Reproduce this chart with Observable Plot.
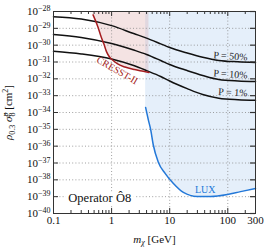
<!DOCTYPE html>
<html><head><meta charset="utf-8">
<script src="https://cdn.jsdelivr.net/npm/d3@7"></script>
<script src="https://cdn.jsdelivr.net/npm/@observablehq/plot@0.6"></script>
<style>body{margin:0;background:#fff} svg{display:block}</style>
</head><body><div id="chart"></div>
<script>
// Black probability curves (mass in GeV, log10 of sigma in cm^2)
const curveMass = [0.1, 0.3, 1, 2.4, 4, 7, 10, 20, 37, 70, 150, 300];
const p50 = [-28.31, -28.45, -28.84, -29.31, -29.58, -29.92, -30.14, -30.47, -30.72, -30.91, -30.99, -31.03];
const p10 = [-29.37, -29.54, -29.90, -30.29, -30.55, -30.91, -31.15, -31.51, -31.80, -32.04, -32.13, -32.16];
const p1  = [-30.36, -30.52, -30.82, -31.21, -31.51, -31.86, -32.13, -32.58, -32.93, -33.15, -33.24, -33.27];
const curveNames = ["P = 50%", "P = 10%", "P = 1%"];
const curveLabelMass = [218, 218, 218];
const curveLabelLog = [-30.73, -31.80, -32.87];

// CRESST-II exclusion boundary
const cresstMass = [0.48, 0.58, 0.66, 0.74, 0.82, 0.92, 1.05, 1.25, 1.7, 2.5, 3.5, 4.4];
const cresstLog  = [-28.2, -28.9, -29.5, -29.95, -30.4, -30.7, -30.9, -31.1, -31.3, -31.45, -31.55, -31.62];

// LUX exclusion boundary
const luxMass = [3.85, 4.3, 4.7, 5.2, 6.4, 8.4, 11.6, 17.2, 30, 50, 99, 166, 300];
const luxLog  = [-33.70, -34.45, -35.0, -35.9, -36.97, -37.63, -38.22, -38.75, -38.99, -38.99, -38.87, -38.70, -38.52];

// Axes
const yTicks = [-40, -39, -38, -37, -36, -35, -34, -33, -32, -31, -30, -29, -28];
const yGrid = [-39, -38, -37, -36, -35, -34, -33, -32, -31, -30, -29];
const xTickValues = [0.1, 1, 10, 100, 300];
const xTickLabels = ["0.1", "1", "10", "100", "300"];
const xGrid = [1, 10, 100];
const xMajor = [0.1, 1, 10, 100];
const xMinor = [0.2,0.3,0.4,0.5,0.6,0.7,0.8,0.9,2,3,4,5,6,7,8,9,20,30,40,50,60,70,80,90,200];
const topLog = -28;

const zip = (xs, ys) => xs.map((x, i) => ({x, y: ys[i]}));
const curves = [p50, p10, p1].flatMap((ys, k) => curveMass.map((x, i) => ({x, y: ys[i], k})));
const cresst = zip(cresstMass, cresstLog);
const lux = zip(luxMass, luxLog);
const curveLabels = curveNames.map((t, i) => ({t, x: curveLabelMass[i], y: curveLabelLog[i]}));

const W = 270, H = 249, ML = 53, MR = 15, MT = 11, MB = 36;
const innerW = W - ML - MR, innerH = H - MT - MB;
const red = "#a51d20", blue = "#2378d8";

const chart = Plot.plot({
  width: W, height: H,
  marginLeft: ML, marginRight: MR, marginTop: MT, marginBottom: MB,
  style: {fontFamily: "'Liberation Serif', serif", fontSize: "11px", background: "white", color: "#111"},
  x: {type: "log", domain: [0.1, 300]},
  y: {domain: [-40, -28]},
  marks: [
    Plot.areaY(lux, {x: "x", y1: "y", y2: () => topLog, fill: "#9ec5ec", fillOpacity: 0.27}),
    Plot.areaY(cresst, {x: "x", y1: "y", y2: () => topLog, fill: "#d99a9a", fillOpacity: 0.28}),
    Plot.ruleY(yGrid, {stroke: "#888", strokeDasharray: "1,2.2", strokeWidth: 0.8}),
    Plot.ruleX(xGrid, {stroke: "#888", strokeDasharray: "1,2.2", strokeWidth: 0.8}),
    Plot.text(["Operator Ô8"], {ariaLabel: "operator-label", x: () => 0.18, y: () => -39.05, textAnchor: "start",
      fontSize: 12.5, fill: "#111", stroke: "white", strokeWidth: 7, paintOrder: "stroke"}),
    Plot.line(curves, {x: "x", y: "y", z: "k", stroke: "#111", strokeWidth: 1.5, curve: "monotone-x"}),
    Plot.line(cresst, {x: "x", y: "y", stroke: red, strokeWidth: 1.5, curve: "monotone-x"}),
    Plot.line(lux, {x: "x", y: "y", stroke: blue, strokeWidth: 1.5, curve: "monotone-x"}),
    Plot.text(curveLabels, {ariaLabel: "p-labels", x: "x", y: "y", text: "t", textAnchor: "end", rotate: 4, fontSize: 10, fill: "#222"}),
    Plot.text(["CRESST-II"], {x: () => 1.25, y: () => -31.5, rotate: 30, fontSize: 10, fill: red}),
    Plot.text(["LUX"], {x: () => 41, y: () => -38.58, fontSize: 10, fill: blue}),
    // inward ticks
    Plot.tickY(yTicks, {y: d => d, insetRight: innerW - 5, stroke: "#333"}),
    Plot.tickY(yTicks, {y: d => d, insetLeft: innerW - 5, stroke: "#333", strokeWidth: 1.2}),
    Plot.tickX(xMajor, {x: d => d, insetTop: innerH - 5, stroke: "#333"}),
    Plot.tickX(xMajor, {x: d => d, insetBottom: innerH - 5, stroke: "#333"}),
    Plot.tickX(xMinor, {x: d => d, insetTop: innerH - 3, stroke: "#333"}),
    Plot.tickX(xMinor, {x: d => d, insetBottom: innerH - 3, stroke: "#333"}),
    Plot.frame({stroke: "#333", strokeWidth: 1}),
    Plot.axisX({ticks: xTickValues, tickFormat: d => xTickLabels[xTickValues.indexOf(d)], tickSize: 0, tickPadding: 3,
      label: "m", labelAnchor: "center", labelOffset: 29, labelArrow: "none"}),
    Plot.axisY({ticks: yTicks, tickFormat: d => "10^" + d, tickSize: 0, tickPadding: 3,
      label: "rho", labelAnchor: "center", labelOffset: 49, labelArrow: "none"})
  ]
});
document.getElementById("chart").append(chart);

const NS = "http://www.w3.org/2000/svg";
function ts(text, attrs = {}) {
  const t = document.createElementNS(NS, "tspan");
  t.textContent = text;
  for (const [k, v] of Object.entries(attrs)) t.setAttribute(k, v);
  return t;
}
chart.querySelectorAll('g[aria-label="y-axis tick label"] text').forEach(t => {
  const exp = t.textContent.split("^")[1].replace("-", "\u2212");
  t.textContent = "";
  t.append(ts("10"), ts(exp, {dy: "-4", "font-size": "8px"}));
});
chart.querySelectorAll('g[aria-label="x-axis label"] text').forEach(t => {
  t.textContent = "";
  t.append(ts("m", {"font-style": "italic"}), ts("\u03c7", {dy: "2.5", "font-size": "8px", "font-style": "italic"}),
    ts(" [GeV]", {dy: "-2.5"}));
});
chart.querySelectorAll('g[aria-label="y-axis label"] text').forEach(t => {
  t.textContent = "";
  t.append(ts("\u03c1", {"font-style": "italic"}), ts("0.3", {dy: "2.5", "font-size": "8px"}),
    ts(" \u03c3\u0302", {dy: "-2.5", "font-style": "italic"}),
    ts("p", {dy: "-4", "font-size": "8px", "font-style": "italic"}),
    ts("8", {dy: "7", dx: "-4", "font-size": "8px"}),
    ts(" [cm", {dy: "-3"}), ts("2", {dy: "-4", "font-size": "8px"}), ts("]", {dy: "4"}));
});
chart.querySelectorAll('g[aria-label="p-labels"] text').forEach(t => {
  const s = t.textContent;
  t.textContent = "";
  t.append(ts(s[0], {"font-style": "italic"}), ts(s.slice(1)));
});
chart.querySelectorAll('g[aria-label="operator-label"] text').forEach(t => {
  t.textContent = "";
  t.append(ts("Operator "), ts("\u00d4", {"font-style": "italic"}), ts("8", {dy: "3.5", "font-size": "8.5px"}));
});
</script>
</body></html>
